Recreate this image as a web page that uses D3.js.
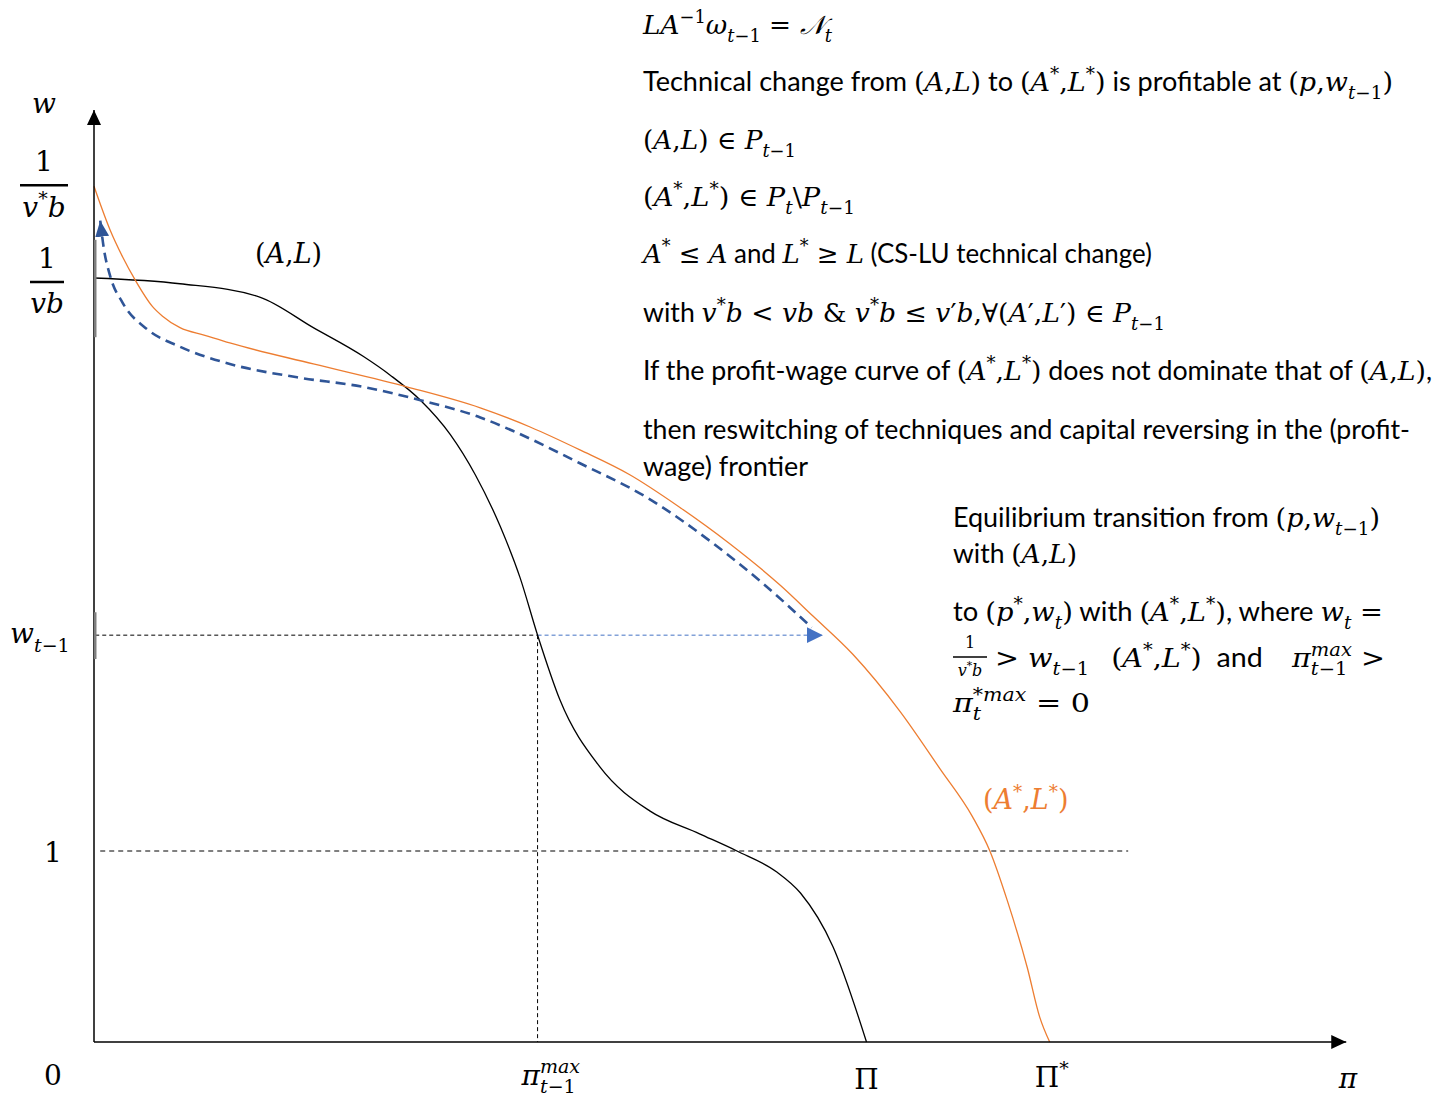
<!DOCTYPE html>
<html>
<head>
<meta charset="utf-8">
<script src="https://cdn.jsdelivr.net/npm/d3@7"></script>
<style>
  body { margin: 0; background: #fff; }
  svg { display: block; }
</style>
</head>
<body>
<svg></svg>
<script>
// profit (pi) and wage (w) values
const alPi = [0, 0.69, 1.33, 1.76, 2.16, 2.38, 2.62, 2.86, 3.06, 3.26, 3.42, 3.56, 3.74, 4.06, 4.46, 4.86, 5.16, 5.48, 5.67, 5.93, 6.2];
const alW = [4.0, 3.97, 3.9, 3.74, 3.59, 3.49, 3.36, 3.18, 2.97, 2.7, 2.43, 2.13, 1.79, 1.44, 1.21, 1.09, 1.0, 0.89, 0.78, 0.5, 0];

const starPi = [0, 0.13, 0.23, 0.33, 0.47, 0.55, 0.69, 0.89, 1.09, 1.76, 2.51, 3.1, 3.5, 3.9, 4.3, 4.7, 5.1, 5.51, 5.77, 6.09, 6.47, 6.79, 7.05, 7.19, 7.33, 7.49, 7.59, 7.67];
const starW = [4.48, 4.25, 4.11, 3.99, 3.85, 3.8, 3.74, 3.7, 3.66, 3.55, 3.43, 3.32, 3.22, 3.1, 2.97, 2.8, 2.61, 2.39, 2.23, 2.03, 1.73, 1.43, 1.18, 1.0, 0.74, 0.39, 0.13, 0];

const movePi = [0.05, 0.08, 0.13, 0.23, 0.43, 0.69, 1.09, 1.63, 2.16, 2.62, 3.1, 3.36, 3.9, 4.44, 4.97, 5.37, 5.76];
const moveW = [4.3, 4.15, 4.01, 3.87, 3.73, 3.64, 3.55, 3.48, 3.43, 3.36, 3.27, 3.2, 3.03, 2.85, 2.61, 2.4, 2.17];

const piMax = 3.56, bigPi = 6.2, bigPiStar = 7.67;
const wPrev = 2.13, wOne = 1, wVB = 4.0, wVStarB = 4.48;
const shiftEnd = 5.85, oneLineEnd = 8.3;
const greySpans = [[4.2, 3.69], [2.25, 2.005]];

const topLines = [
  "$LA^{−1}ω_{t−1} = 𝒩_{t}$",
  "Technical change from $(A,L)$ to $(A^{*},L^{*})$ is profitable at $(p,w_{t−1})$",
  "$(A,L) ∈ P_{t−1}$",
  "$(A^{*},L^{*}) ∈ P_{t}\\P_{t−1}$",
  "$A^{*} ≤ A$ and $L^{*} ≥ L$ (CS-LU technical change)",
  "with $v^{*}b < vb & v^{*}b ≤ v′b,∀(A′,L′) ∈ P_{t−1}$",
  "If the profit-wage curve of $(A^{*},L^{*})$ does not dominate that of $(A,L)$,",
  "then reswitching of techniques and capital reversing in the (profit-",
  "wage) frontier"
];
const lowLines = [
  "Equilibrium transition from $(p,w_{t−1})$",
  "with $(A,L)$",
  "to $(p^{*},w_{t})$ with $(A^{*},L^{*})$, where $w_{t} =$",
  "$> w_{t−1}$\u00a0\u00a0\u00a0$(A^{*},L^{*})$\u00a0 and\u00a0\u00a0\u00a0 $π^{max}_{t−1} >$",
  "$π_{t}^{*max} = 0$"
];

// layout for the text blocks: [x, baseline, width]
const topLayout = [[643, 34, 189], [643, 91, 750], [643, 149, 153], [643, 206, 212], [643, 263, 509],
  [643, 322, 522], [643, 380, 789], [643, 439, 767], [643, 476, 165]];
const lowLayout = [[953, 527, 427], [953, 563, 124], [953, 621, 430], [995, 667, 390], [953, 712, 137]];

const SANS = "Lato, 'Open Sans', sans-serif";
const SERIF = "'DejaVu Serif', serif";
const ORANGE = "#ED7D31", DARKBLUE = "#2F5597", BLUE = "#4472C4", GREY = "#7F7F7F";

const svg = d3.select("svg").attr("width", 1453).attr("height", 1097);

const x = d3.scaleLinear().domain([0, 10]).range([94, 1340]);
const y = d3.scaleLinear().domain([0, 5]).range([1042, 87]);

const defs = svg.append("defs");
function marker(id, color, len, half) {
  defs.append("marker")
    .attr("id", id)
    .attr("markerUnits", "userSpaceOnUse")
    .attr("markerWidth", len + 2).attr("markerHeight", half * 2 + 2)
    .attr("viewBox", `0 ${-half - 1} ${len + 2} ${half * 2 + 2}`)
    .attr("refX", len).attr("refY", 0)
    .attr("orient", "auto-start-reverse")
    .append("path")
    .attr("d", `M0,${-half}L${len},0L0,${half}Z`)
    .attr("fill", color);
}
marker("axisArrow", "#000", 15, 7);
marker("blueArrow", BLUE, 16, 8);
marker("darkArrow", DARKBLUE, 16, 7);

// text with simple math markup: $...$ is math, ^{} superscript, _{} subscript
function push(out, c, pos, g, stackOn) {
  const kind = /[A-Za-zα-ωΑ-ΟΡ-Ω𝒩]/u.test(c) ? "it" : "up";
  const last = out[out.length - 1];
  if (last && last.kind === kind && last.pos === pos && last.g === g) last.text += c;
  else out.push({ text: c, kind, pos, g, stackOn });
}
function parse(str) {
  const out = [];
  let gid = 0, lastGroup = null;
  str.split("$").forEach((part, i) => {
    if (i % 2 === 0) {
      if (part) out.push({ text: part, kind: "sans", pos: null, g: null, stackOn: null });
      lastGroup = null;
      return;
    }
    const ch = Array.from(part);
    let k = 0;
    while (k < ch.length) {
      const c = ch[k];
      if (c === "^" || c === "_") {
        const pos = c === "^" ? "sup" : "sub";
        const content = [];
        k++;
        if (ch[k] === "{") {
          k++;
          while (ch[k] !== "}") { content.push(ch[k]); k++; }
          k++;
        } else { content.push(ch[k]); k++; }
        const id = ++gid;
        const stackOn = lastGroup && lastGroup.pos !== pos ? lastGroup.id : null;
        content.forEach(cc => push(out, cc, pos, id, stackOn));
        lastGroup = { id, pos };
      } else {
        push(out, c, null, null, null);
        lastGroup = null;
        k++;
      }
    }
  });
  return out;
}
function rich(sel, str, px, py, size, opts = {}) {
  const t = sel.append("text")
    .attr("x", px).attr("y", py)
    .attr("font-size", size)
    .attr("fill", opts.color || "#000")
    .attr("text-anchor", opts.anchor || "start")
    .attr("xml:space", "preserve");
  const toks = parse(str);
  let shift = 0;
  toks.forEach(tk => {
    const target = tk.pos === "sup" ? -0.42 * size : tk.pos === "sub" ? 0.3 * size : 0;
    const ts = t.append("tspan")
      .attr("font-family", tk.kind === "sans" ? SANS : SERIF)
      .attr("font-style", tk.kind === "it" ? "italic" : "normal")
      .attr("font-size", tk.pos ? size * 0.68 : size)
      .text(tk.text);
    if (target !== shift) ts.attr("dy", target - shift);
    shift = target;
    tk.node = ts;
  });
  const len = {};
  toks.forEach(tk => {
    if (tk.g) len[tk.g] = (len[tk.g] || 0) + tk.node.node().getComputedTextLength();
  });
  toks.forEach((tk, i) => {
    const prev = toks[i - 1];
    if (tk.stackOn && (!prev || prev.g !== tk.g)) tk.node.attr("dx", -len[tk.stackOn]);
    if (prev && prev.stackOn && prev.g !== tk.g) {
      const extra = len[prev.stackOn] - len[prev.g];
      if (extra > 0) tk.node.attr("dx", extra);
    }
  });
  if (opts.width) t.attr("textLength", opts.width).attr("lengthAdjust", "spacingAndGlyphs");
  return t;
}

const line = d3.line()
  .x(d => x(d[0]))
  .y(d => y(d[1]))
  .curve(d3.curveMonotoneX);

// guide lines
const guides = svg.append("g").attr("fill", "none").attr("stroke-width", 1);
guides.append("line")
  .attr("x1", x(0.01)).attr("x2", x(piMax))
  .attr("y1", y(wPrev)).attr("y2", y(wPrev))
  .attr("stroke", "#000").attr("stroke-dasharray", "4,3");
guides.append("line")
  .attr("x1", x(piMax)).attr("x2", x(piMax))
  .attr("y1", y(wPrev)).attr("y2", y(0))
  .attr("stroke", "#000").attr("stroke-dasharray", "4,3");
guides.append("line")
  .attr("x1", x(0.05)).attr("x2", x(oneLineEnd))
  .attr("y1", y(wOne)).attr("y2", y(wOne))
  .attr("stroke", "#000").attr("stroke-dasharray", "5,4");
guides.append("line")
  .attr("x1", x(piMax)).attr("x2", x(shiftEnd))
  .attr("y1", y(wPrev)).attr("y2", y(wPrev))
  .attr("stroke", BLUE).attr("stroke-dasharray", "4,3")
  .attr("marker-end", "url(#blueArrow)");

// curves
svg.append("path")
  .datum(d3.zip(alPi, alW))
  .attr("d", line)
  .attr("fill", "none").attr("stroke", "#000").attr("stroke-width", 1.3);

svg.append("path")
  .datum(d3.zip(starPi, starW))
  .attr("d", line)
  .attr("fill", "none").attr("stroke", ORANGE).attr("stroke-width", 1.3);

svg.append("path")
  .datum(d3.zip(movePi, moveW))
  .attr("d", line)
  .attr("fill", "none").attr("stroke", DARKBLUE).attr("stroke-width", 2.6)
  .attr("stroke-dasharray", "10,6")
  .attr("marker-start", "url(#darkArrow)");

// axes
svg.append("line")
  .attr("x1", x(0)).attr("x2", x(0))
  .attr("y1", y(0)).attr("y2", y(4.88))
  .attr("stroke", "#000").attr("stroke-width", 1.5)
  .attr("marker-end", "url(#axisArrow)");
svg.append("line")
  .attr("x1", x(0)).attr("x2", x(10.05))
  .attr("y1", y(0)).attr("y2", y(0))
  .attr("stroke", "#000").attr("stroke-width", 1.5)
  .attr("marker-end", "url(#axisArrow)");

svg.selectAll("line.grey")
  .data(greySpans)
  .enter()
  .append("line")
  .attr("class", "grey")
  .attr("x1", x(0.01)).attr("x2", x(0.01))
  .attr("y1", d => y(d[0])).attr("y2", d => y(d[1]))
  .attr("stroke", GREY).attr("stroke-width", 2.5);

// axis labels
const labels = svg.append("g");
rich(labels, "$w$", 32, y(4.88) + 3, 28);

function frac(cx, yBar, num, den, size, barW, gap) {
  rich(labels, num, cx, yBar - gap, size, { anchor: "middle" });
  labels.append("line")
    .attr("x1", cx - barW / 2).attr("x2", cx + barW / 2)
    .attr("y1", yBar).attr("y2", yBar)
    .attr("stroke", "#000").attr("stroke-width", size > 20 ? 2.5 : 1.4);
  rich(labels, den, cx, yBar + gap + size * 0.62, size, { anchor: "middle" });
}
frac(44, y(wVStarB) - 1, "$1$", "$v^{*}b$", 28, 48, 14);
frac(47, y(wVB) + 4, "$1$", "$vb$", 28, 34, 14);
rich(labels, "$w_{t−1}$", 10, y(wPrev) + 8, 28);
rich(labels, "$1$", 53, y(wOne) + 11, 28, { anchor: "middle" });
rich(labels, "$0$", 53, y(0) + 43, 28, { anchor: "middle" });

rich(labels, "$π_{t−1}^{max}$", x(piMax) - 16, y(0) + 43, 28);
rich(labels, "$Π$", x(bigPi), y(0) + 47, 28, { anchor: "middle" });
rich(labels, "$Π^{*}$", x(bigPiStar) + 2, y(0) + 45, 28, { anchor: "middle" });
rich(labels, "$π$", x(10) + 8, y(0) + 46, 28, { anchor: "middle" });

rich(labels, "$(A,L)$", 255, 263, 27);
rich(labels, "$(A^{*},L^{*})$", 983, 809, 27, { color: ORANGE });

// text blocks
const notes = svg.append("g");
topLines.forEach((s, i) => {
  const [lx, ly, lw] = topLayout[i];
  rich(notes, s, lx, ly, 26, { width: lw });
});
lowLines.forEach((s, i) => {
  const [lx, ly, lw] = lowLayout[i];
  rich(notes, s, lx, ly, 26, { width: lw });
});
frac(970, 657, "$1$", "$v^{*}b$", 16, 34, 9);
</script>
</body>
</html>
